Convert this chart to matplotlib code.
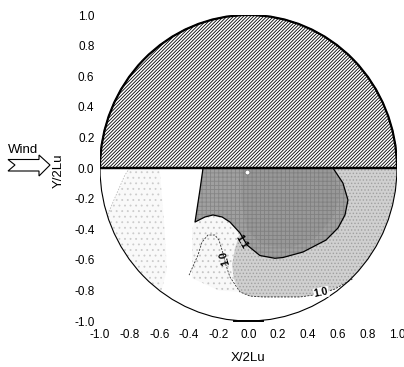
import numpy as np
import matplotlib
matplotlib.use("Agg")
import matplotlib.pyplot as plt
from matplotlib.patches import Circle, Wedge, Polygon

plt.rcParams['font.family'] = ['Liberation Sans', 'DejaVu Sans']
plt.rcParams['axes.unicode_minus'] = False
plt.rcParams['hatch.linewidth'] = 0.6

# axis ticks
ticks = [-1.0, -0.8, -0.6, -0.4, -0.2, 0.0, 0.2, 0.4, 0.6, 0.8, 1.0]
tick_labels = ['-1.0', '-0.8', '-0.6', '-0.4', '-0.2', '0.0', '0.2', '0.4', '0.6', '0.8', '1.0']

# 1.1 contour (dark region)
dark_x = [-0.306, -0.327, -0.360, -0.293, -0.239, -0.178, -0.125, -0.057, -0.010, 0.077,
          0.178, 0.232, 0.367, 0.522, 0.603, 0.650, 0.670, 0.636, 0.569]
dark_y = [0.0, -0.144, -0.353, -0.320, -0.307, -0.320, -0.353, -0.425, -0.503, -0.572,
          -0.590, -0.585, -0.549, -0.471, -0.392, -0.307, -0.209, -0.098, 0.0]

# slightly darker core inside the 1.1 region
core_x = [-0.05, -0.05, -0.01, 0.09, 0.28, 0.45, 0.58, 0.62, 0.55]
core_y = [0.0, -0.21, -0.405, -0.503, -0.523, -0.458, -0.307, -0.144, 0.0]

# 1.0 contour line
c10_x = [0.70, 0.582, 0.481, 0.347, 0.098, 0.010, -0.057, -0.125, -0.152, -0.178,
         -0.199, -0.226, -0.273, -0.313, -0.340, -0.40]
c10_y = [-0.725, -0.791, -0.824, -0.843, -0.843, -0.837, -0.810, -0.712, -0.634, -0.536,
         -0.471, -0.438, -0.438, -0.484, -0.569, -0.70]

# 1.0 - 1.1 band (dense stipple)
band_x = [0.0, 1.05, 1.05, 0.677, 0.582, 0.481, 0.347, 0.098, 0.010, -0.057,
          -0.10, -0.11, -0.09, -0.057, 0.0]
band_y = [0.0, 0.0, -0.70, -0.739, -0.791, -0.824, -0.843, -0.843, -0.837, -0.810,
          -0.72, -0.63, -0.52, -0.425, -0.40]

# light (sparse dots) areas
tongue_x = [-0.360, -0.293, -0.239, -0.178, -0.125, -0.057, -0.09, -0.11, -0.10, -0.057,
            -0.20, -0.38, -0.38]
tongue_y = [-0.353, -0.320, -0.307, -0.320, -0.353, -0.425, -0.52, -0.63, -0.72, -0.81,
            -0.80, -0.72, -0.40]
strip_x = [-0.80, -0.60, -0.58, -0.56, -0.55, -0.60, -1.05, -1.05, -0.93]
strip_y = [0.0, 0.0, -0.21, -0.47, -0.67, -0.85, -0.60, -0.30, -0.27]

# faint contour on the left
faint_x = [-0.80, -0.832, -0.912, -0.95]
faint_y = [0.0, -0.046, -0.222, -0.31]

# tower position and base mark
tower_x, tower_y = -0.01, -0.026
base_x = [-0.10, 0.10]
base_y = [-1.0, -1.0]

fig = plt.figure(figsize=(4.04, 3.67), dpi=100)
ax = fig.add_axes([0.2475, 0.1253, 0.7351, 0.8338])
ax.set_xlim(-1, 1)
ax.set_ylim(-1, 1)

disk = Circle((0, 0), 1.0, transform=ax.transData)


def fill(xs, ys, face, hatch=None, hcol=None, z=1):
    p = Polygon(np.column_stack([xs, ys]), closed=True, facecolor=face,
                edgecolor='none', lw=0, zorder=z)
    ax.add_patch(p)
    p.set_clip_path(disk)
    if hatch:
        h = Polygon(np.column_stack([xs, ys]), closed=True, facecolor='none',
                    edgecolor=hcol, lw=0, hatch=hatch, zorder=z + 0.1)
        ax.add_patch(h)
        h.set_clip_path(disk)


fill(strip_x, strip_y, '#f9f9f9', '...', '#cccccc', z=1)
fill(tongue_x, tongue_y, '#f8f8f8', '...', '#c4c4c4', z=1)
fill(band_x, band_y, '#d0d0d0', '.....', '#a0a0a0', z=2)
fill(dark_x, dark_y, '#a0a0a0', '++++', '#858585', z=3)
fill(core_x, core_y, '#989898', '++++', '#808080', z=4)

ax.plot(dark_x, dark_y, color='black', lw=0.9, zorder=6)
ax.plot(c10_x, c10_y, color='#333333', lw=0.6, ls=(0, (2.5, 1.5)), zorder=6)
ax.plot(faint_x, faint_y, color='#bbbbbb', lw=0.6, ls=(0, (2, 1.5)), zorder=6)

# upper half: hatched
ax.add_patch(Wedge((0, 0), 1.0, 0, 180, facecolor='white', edgecolor='black',
                   hatch='//////////', lw=1.6, zorder=7))
ax.plot([-1, 1], [0, 0], color='black', lw=1.6, zorder=8)
ax.add_patch(Circle((0, 0), 1.0, facecolor='none', edgecolor='black', lw=0.8, zorder=8))
ax.plot(base_x, base_y, color='black', lw=1.4, zorder=8, clip_on=False)
ax.plot([tower_x], [tower_y], 'o', ms=3.5, mfc='white', mec='#777777', mew=0.6, zorder=9)

# contour labels
lab = dict(fontsize=7.5, fontweight='bold', ha='center', va='center', zorder=10)
ax.text(-0.044, -0.484, '1.1', rotation=-60, **lab)
ax.text(-0.158, -0.588, '1.0', rotation=105, **lab)
ax.text(0.49, -0.815, '1.0', rotation=12,
        bbox=dict(fc='white', ec='none', pad=0.3), **lab)

for s in ax.spines.values():
    s.set_visible(False)
ax.set_xticks(ticks)
ax.set_xticklabels(tick_labels)
ax.set_yticks(ticks)
ax.set_yticklabels(tick_labels)
ax.tick_params(length=0, labelsize=8.5)
ax.tick_params(axis='x', pad=6)
ax.tick_params(axis='y', pad=4)
ax.set_xlabel('X/2Lu', fontsize=9.5)
ax.set_ylabel('Y/2Lu', fontsize=9.5)
ax.xaxis.set_label_coords(0.5, -0.101)
ax.yaxis.set_label_coords(-0.118, 0.49)

# wind arrow
fig.text(8 / 404, (367 - 153) / 367, 'Wind', fontsize=9.5, ha='left', va='baseline')
arrow_px = [(8, 159.5), (39, 159.5), (39, 155), (50, 165), (39, 176), (39, 171), (8, 171), (15, 165)]
arrow = [(px / 404, (367 - py) / 367) for px, py in arrow_px]
fig.patches.append(Polygon(arrow, closed=True, facecolor='white', edgecolor='black',
                           lw=0.8, transform=fig.transFigure, figure=fig))

fig.savefig('out.png', dpi=100)
